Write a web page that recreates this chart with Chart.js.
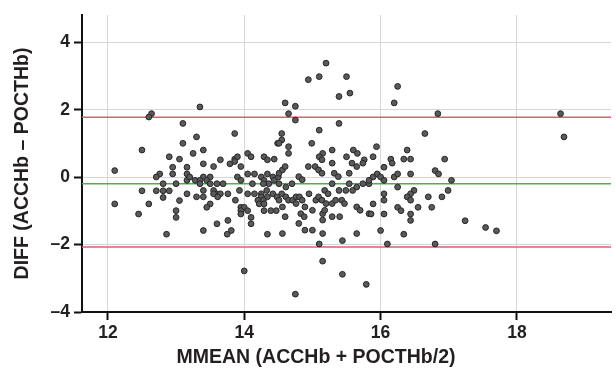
<!DOCTYPE html>
<html>
<head>
<meta charset="utf-8">
<script src="https://cdn.jsdelivr.net/npm/chart.js@4/dist/chart.umd.min.js"></script>
<style>
  html, body { margin: 0; padding: 0; background: #fff; }
  #wrap { width: 616px; height: 373px; }
</style>
</head>
<body>
<div id="wrap"><canvas id="chartBA" width="616" height="373"></canvas></div>
<script>
// Bland-Altman: mean of both methods vs. their difference
const mmean = [
  12.64, 12.60, 13.10, 13.10, 12.50, 12.90, 13.05,
  12.10, 12.10, 12.95, 13.16, 12.76, 12.71, 12.95, 13.16, 12.81, 13.00, 13.16,
  12.50, 12.71, 12.81, 12.90, 13.16, 12.81, 13.05, 12.60, 13.00, 12.45, 13.00, 12.86,
  13.35, 13.30, 13.86, 13.40, 13.25, 13.65, 13.86, 13.90, 14.05, 14.10, 14.29, 14.44, 14.49,
  13.40, 13.55, 13.79, 13.86, 13.95, 14.34, 14.05, 14.15, 14.34, 13.20, 13.28, 13.40,
  13.50, 13.90, 14.25, 14.42, 14.50, 13.35, 13.45, 13.35, 13.50, 13.60, 13.69, 13.95,
  14.29, 14.36, 14.44, 14.28, 14.12, 13.40, 13.55, 13.60, 13.55, 13.65, 13.76, 13.93,
  14.05, 14.15, 14.25, 14.33, 14.42, 14.48, 13.30, 13.40, 13.61, 14.25, 14.34, 14.20,
  14.28, 13.87, 13.50, 13.45, 13.95, 14.00, 13.95, 14.05, 14.22, 14.29, 14.39, 14.47,
  14.29, 13.95, 14.10, 14.10, 13.60, 13.76, 13.81, 13.75, 13.40, 14.34, 14.00,
  15.20, 14.94, 15.10, 15.50, 15.39, 15.55, 14.60, 14.75, 14.65, 14.75, 15.10, 15.39,
  14.55, 14.55, 14.51, 14.65, 14.65, 14.99, 15.15, 15.10, 15.29, 15.50, 15.60, 15.66, 15.76,
  14.51, 14.56, 14.60, 14.94, 15.04, 15.09, 15.14, 15.14, 15.29, 15.32, 15.38, 15.58,
  15.65, 15.74, 15.54, 14.80, 14.85, 14.70, 14.61, 14.51, 15.29, 15.18, 15.23, 15.39,
  15.49, 15.54, 15.59, 15.65, 15.74, 15.83, 14.55, 14.61, 14.51, 14.65, 14.71, 14.76,
  14.81, 14.85, 14.95, 15.05, 15.09, 15.14, 15.20, 15.29, 15.34, 15.43, 15.47, 14.56,
  14.76, 14.89, 15.00, 15.15, 15.18, 15.29, 15.40, 15.65, 15.70, 15.83, 14.83, 14.88,
  14.60, 14.80, 14.56, 14.89, 15.00, 15.15, 15.15, 15.10, 15.44, 15.65, 15.15, 15.44,
  15.79, 14.75,
  16.25, 16.20, 16.84, 16.65, 15.94, 15.89, 16.39, 16.15, 16.34, 16.44, 16.94,
  16.17, 16.05, 15.95, 15.89, 16.00, 15.83, 16.05, 16.20, 16.25, 16.44, 16.80, 16.85,
  17.04, 16.25, 16.05, 16.05, 15.89, 15.86, 16.05, 16.49, 16.44, 16.39, 16.44, 16.25,
  16.30, 16.55, 16.44, 16.44, 16.70, 16.75, 16.90, 16.99, 16.00, 16.34, 16.10, 16.80,
  18.64, 18.69, 17.24, 17.54, 17.70
];
const diff = [
  1.89, 1.79, 1.60, 1.01, 0.81, 0.61, 0.54,
  0.20, -0.79, 0.30, 0.30, 0.10, 0.01, 0.10, 0.10, -0.19, -0.19, -0.09,
  -0.40, -0.40, -0.40, -0.40, -0.49, -0.60, -0.69, -0.79, -0.99, -1.09, -1.19, -1.69,
  2.09, 1.20, 1.30, 0.81, 0.71, 0.52, 0.54, 0.61, 0.71, 0.61, 0.61, 0.54, 1.01,
  0.40, 0.32, 0.40, 0.47, 0.32, 0.52, 0.10, 0.10, 0.10, 0.01, -0.09, 0.01,
  0.01, 0.01, 0.01, 0.01, 0.01, -0.09, -0.09, -0.19, -0.19, -0.19, -0.19, -0.09,
  -0.09, -0.19, -0.09, -0.19, -0.19, -0.39, -0.39, -0.49, -0.49, -0.49, -0.49, -0.39,
  -0.49, -0.49, -0.49, -0.39, -0.49, -0.58, -0.58, -0.58, -0.58, -0.58, -0.58, -0.68,
  -0.68, -0.68, -0.79, -0.89, -0.89, -0.89, -0.99, -0.99, -0.79, -0.79, -0.99, -0.99,
  -0.99, -1.09, -1.19, -1.38, -1.38, -1.28, -1.58, -1.69, -1.58, -1.69, -2.78,
  3.39, 2.90, 2.99, 2.99, 2.40, 2.50, 2.21, 2.11, 1.89, 1.70, 1.40, 1.60,
  1.30, 1.11, 1.01, 0.91, 0.71, 1.01, 0.71, 0.61, 0.81, 0.61, 0.81, 0.71, 0.52,
  0.12, 0.22, 0.32, 0.32, 0.32, 0.22, 0.12, 0.52, 0.42, 0.12, 0.02, 0.42,
  0.32, 0.42, 0.12, 0.02, -0.07, -0.19, -0.29, -0.19, -0.19, -0.39, -0.49, -0.39,
  -0.39, -0.19, -0.39, -0.29, -0.19, -0.19, -0.49, -0.58, -0.68, -0.68, -0.68, -0.58,
  -0.58, -0.68, -0.49, -0.68, -0.58, -0.68, -0.78, -0.78, -0.68, -0.68, -0.78, -0.88,
  -0.78, -0.88, -0.98, -1.08, -0.98, -1.17, -1.17, -0.88, -0.98, -1.08, -1.08, -1.17,
  -1.17, -1.37, -1.67, -1.57, -1.57, -1.67, -1.27, -1.98, -1.88, -1.67, -2.49, -2.88,
  -3.18, -3.47,
  2.70, 2.21, 1.89, 1.30, 0.91, 0.61, 0.81, 0.54, 0.54, 0.54, 0.54,
  0.42, 0.30, 0.10, 0.01, 0.01, -0.09, -0.09, 0.01, 0.10, 0.10, 0.20, 0.10,
  -0.09, -0.29, -0.49, -0.68, -0.79, -1.09, -1.09, -0.39, -0.49, -0.58, -0.68, -0.89,
  -0.99, -0.89, -1.09, -1.28, -0.58, -0.89, -0.58, -0.39, -1.58, -1.69, -1.98, -1.98,
  1.89, 1.20, -1.29, -1.49, -1.59
];

// mean difference and limits of agreement
const meanDiff = -0.19;
const upperLoA = 1.78;
const lowerLoA = -2.07;

const xRange = [11.62, 19.38];
const yRange = [-4, 4.82];
const xTicks = [12, 14, 16, 18];
const yTicks = [-4, -2, 0, 2, 4];
const xTitle = 'MMEAN (ACCHb + POCTHb/2)';
const yTitle = 'DIFF (ACCHb \u2013 POCTHb)';

const FONT = "'Liberation Sans', Arial, Helvetica, sans-serif";
const INK = '#231f20';

const puntos = mmean.map((x, i) => ({ x, y: diff[i] }));
const linea = v => xRange.map(x => ({ x, y: v }));

// x title is centred on the whole figure, not on the plot area
const tituloX = {
  id: 'tituloX',
  afterDraw(chart) {
    const c = chart.ctx;
    c.save();
    c.font = `bold 19.5px ${FONT}`;
    c.fillStyle = INK;
    c.textAlign = 'center';
    c.textBaseline = 'middle';
    c.fillText(xTitle, chart.width / 2 + 8, 358);
    c.restore();
  }
};

const ctx = document.getElementById('chartBA').getContext('2d');
new Chart(ctx, {
  type: 'scatter',
  data: {
    datasets: [
      { type: 'line', data: linea(upperLoA), borderColor: '#e35a76', borderWidth: 1.5, pointRadius: 0, order: 2 },
      { type: 'line', data: linea(lowerLoA), borderColor: '#e35a76', borderWidth: 1.5, pointRadius: 0, order: 2 },
      { type: 'line', data: linea(meanDiff), borderColor: '#52ad52', borderWidth: 1.5, pointRadius: 0, order: 2 },
      {
        data: puntos,
        pointRadius: 2.9,
        backgroundColor: '#5a5a5a',
        borderColor: '#262626',
        borderWidth: 1,
        order: 1
      }
    ]
  },
  options: {
    responsive: false,
    animation: false,
    layout: { padding: { top: 15, right: 4, left: 0, bottom: 0 } },
    plugins: { legend: { display: false }, tooltip: { enabled: false } },
    scales: {
      x: {
        type: 'linear',
        min: xRange[0],
        max: xRange[1],
        afterBuildTicks: s => { s.ticks = xTicks.map(value => ({ value })); },
        afterFit: s => { s.height = 61; },
        grid: { color: '#d7d7d7', lineWidth: 1, tickColor: '#111', tickLength: 8, tickWidth: 2 },
        border: { color: '#111', width: 2 },
        ticks: { color: INK, padding: 3, font: { family: FONT, size: 17.5, weight: 'bold' } },
        title: { display: false }
      },
      y: {
        type: 'linear',
        min: yRange[0],
        max: yRange[1],
        afterBuildTicks: s => { s.ticks = yTicks.map(value => ({ value })); },
        afterFit: s => { s.width = 82; },
        grid: { color: '#d7d7d7', lineWidth: 1, tickColor: '#111', tickLength: 8, tickWidth: 2 },
        border: { color: '#111', width: 2 },
        ticks: {
          color: INK,
          padding: 4,
          font: { family: FONT, size: 17.5, weight: 'bold' },
          callback: v => String(v).replace('-', '\u2013')
        },
        title: {
          display: true,
          text: yTitle,
          color: INK,
          padding: { top: 11, bottom: 0 },
          font: { family: FONT, size: 19.5, weight: 'bold' }
        }
      }
    }
  },
  plugins: [tituloX]
});
</script>
</body>
</html>
